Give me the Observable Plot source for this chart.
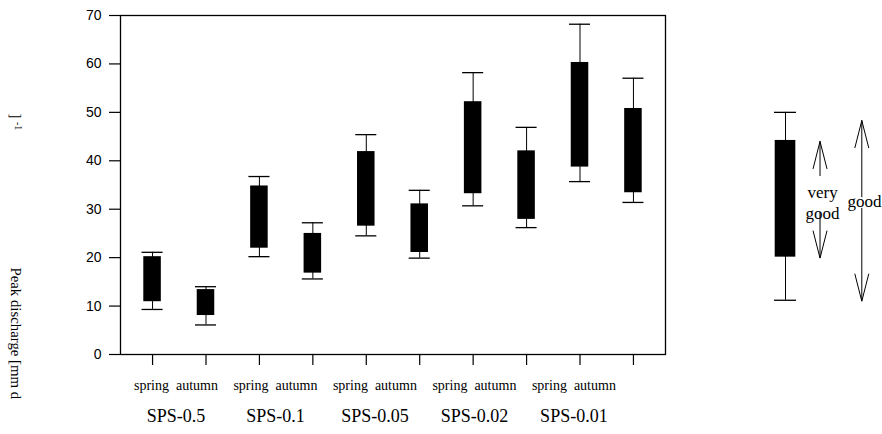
<!DOCTYPE html>
<html><head><meta charset="utf-8">
<script src="https://cdn.jsdelivr.net/npm/d3@7"></script>
<script src="https://cdn.jsdelivr.net/npm/@observablehq/plot@0.6"></script>
<style>html,body{margin:0;padding:0;background:#fff}</style>
</head><body><div id="chart"></div>
<script>
// ---- data ----
const schemes = ["SPS-0.5", "SPS-0.1", "SPS-0.05", "SPS-0.02", "SPS-0.01"];
const seasons = ["spring", "autumn"];
const whiskerLow  = [9.3, 6.1, 20.2, 15.6, 24.5, 19.9, 30.7, 26.2, 35.7, 31.4];
const boxLow      = [10.9, 8.05, 21.95, 16.8, 26.5, 21.06, 33.2, 27.9, 38.7, 33.4];
const boxHigh     = [20.2, 13.4, 34.8, 25.0, 41.9, 31.1, 52.2, 42.05, 60.3, 50.8];
const whiskerHigh = [21.1, 14.0, 36.75, 27.2, 45.4, 33.9, 58.2, 46.9, 68.2, 57.05];
const yTicks = [0, 10, 20, 30, 40, 50, 60, 70];
const xTicks = [1, 2, 3, 4, 5, 6, 7, 8, 9, 10];
// legend box: whisker low, box low, box high, whisker high
const legendStats = [11.2, 20.1, 44.2, 50.0];
// arrows: [low tip, high tip] and the gap left for the text [low, high]
const veryGoodRange = [19.9, 44.0];
const veryGoodGap = [29.3, 36.75];
const goodRange = [11.0, 48.3];
const goodGap = [30.15, 32.4];

// ---- tables built from the arrays ----
const boxes = xTicks.map((p, i) => ({
  pos: p,
  scheme: schemes[Math.floor(i / 2)],
  season: seasons[i % 2],
  wl: whiskerLow[i], bl: boxLow[i], bh: boxHigh[i], wh: whiskerHigh[i]
}));
const groups = schemes.map((s, g) => ({scheme: s, g}));

// layout helpers (data units of the x scale)
const boxHalf = 0.164, capHalf = 0.197;
const labelX = d => 1.40 + 1.862 * d.g;
const legendX = 12.846, veryGoodX = 13.492, goodX = 14.274;
const serif = "Liberation Serif, Times New Roman, serif";
const sans = "Liberation Sans, Arial, sans-serif";

const headUp = {draw(c) { c.moveTo(-7, 27.5); c.lineTo(0, 0); c.lineTo(7, 27.5); }};
const headDown = {draw(c) { c.moveTo(-7, -27.5); c.lineTo(0, 0); c.lineTo(7, -27.5); }};

const legend = [{wl: legendStats[0], bl: legendStats[1], bh: legendStats[2], wh: legendStats[3], pos: legendX}];

const chart = Plot.plot({
  width: 882,
  height: 434,
  marginLeft: 120,
  marginRight: 217,
  marginTop: 15,
  marginBottom: 80,
  style: {fontFamily: sans, fontSize: "14px", color: "black", background: "white", overflow: "visible"},
  x: {type: "linear", domain: [0.4, 10.6], axis: null},
  y: {domain: [0, 70], axis: null},
  marks: [
    Plot.frame({stroke: "black", strokeWidth: 1.3}),
    Plot.axisY(yTicks, {tickSize: 11, tickPadding: 8, fontSize: 14, fontFamily: sans, strokeWidth: 1.2, label: null}),
    Plot.axisX(xTicks, {tickSize: 11, tickFormat: () => "", strokeWidth: 1.2, label: null}),
    // whiskers
    Plot.ruleX(boxes, {x: "pos", y1: "wl", y2: "wh", stroke: "black", strokeWidth: 1}),
    Plot.ruleY(boxes, {y: "wl", x1: d => d.pos - capHalf, x2: d => d.pos + capHalf, stroke: "black", strokeWidth: 1.3}),
    Plot.ruleY(boxes, {y: "wh", x1: d => d.pos - capHalf, x2: d => d.pos + capHalf, stroke: "black", strokeWidth: 1.3}),
    // boxes
    Plot.rect(boxes, {x1: d => d.pos - boxHalf, x2: d => d.pos + boxHalf, y1: "bl", y2: "bh", fill: "black"}),
    // category labels
    Plot.text(groups, {x: labelX, frameAnchor: "bottom", dy: 35, dx: -22.5, text: () => seasons[0], fontFamily: serif, fontSize: 14, lineAnchor: "bottom"}),
    Plot.text(groups, {x: labelX, frameAnchor: "bottom", dy: 35, dx: 23, text: () => seasons[1], fontFamily: serif, fontSize: 14, lineAnchor: "bottom"}),
    Plot.text(groups, {x: labelX, frameAnchor: "bottom", dy: 67, dx: 2, text: "scheme", fontFamily: serif, fontSize: 18, lineAnchor: "bottom"}),
    // y axis title (as laid out in the reference)
    Plot.text(["Peak discharge [mm d"], {frameAnchor: "left", dx: -109.5, dy: 82.5, rotate: 90, textAnchor: "start", lineAnchor: "bottom", fontFamily: serif, fontSize: 14.8}),
    Plot.text(["]"], {frameAnchor: "left", dx: -109.5, dy: -71.5, rotate: 90, textAnchor: "start", lineAnchor: "bottom", fontFamily: serif, fontSize: 14.8}),
    Plot.text(["-1"], {frameAnchor: "left", dx: -106, dy: -63, rotate: 90, textAnchor: "start", lineAnchor: "bottom", fontFamily: serif, fontSize: 10}),
    // legend box
    Plot.ruleX(legend, {x: "pos", y1: "wl", y2: "wh", stroke: "black", strokeWidth: 1}),
    Plot.ruleY(legend, {y: "wl", x1: d => d.pos - 0.206, x2: d => d.pos + 0.206, stroke: "black", strokeWidth: 1.3}),
    Plot.ruleY(legend, {y: "wh", x1: d => d.pos - 0.206, x2: d => d.pos + 0.206, stroke: "black", strokeWidth: 1.3}),
    Plot.rect(legend, {x1: d => d.pos - 0.193, x2: d => d.pos + 0.193, y1: "bl", y2: "bh", fill: "black"}),
    // legend arrows
    Plot.ruleX([0], {x: veryGoodX, y1: veryGoodGap[1], y2: veryGoodRange[1], stroke: "black", strokeWidth: 1}),
    Plot.ruleX([0], {x: veryGoodX, y1: veryGoodRange[0], y2: veryGoodGap[0], stroke: "black", strokeWidth: 1}),
    Plot.ruleX([0], {x: goodX, y1: goodGap[1], y2: goodRange[1], stroke: "black", strokeWidth: 1}),
    Plot.ruleX([0], {x: goodX, y1: goodRange[0], y2: goodGap[0], stroke: "black", strokeWidth: 1}),
    Plot.dot([veryGoodRange[1], goodRange[1]], {x: [veryGoodX, goodX], y: d => d, symbol: headUp, fill: "none", stroke: "black", strokeWidth: 1}),
    Plot.dot([veryGoodRange[0], goodRange[0]], {x: [veryGoodX, goodX], y: d => d, symbol: headDown, fill: "none", stroke: "black", strokeWidth: 1}),
    Plot.text(["very"], {x: 13.539, y: 32.36, lineAnchor: "bottom", fontFamily: serif, fontSize: 17}),
    Plot.text(["good"], {x: 13.539, y: 28.02, lineAnchor: "bottom", fontFamily: serif, fontSize: 17}),
    Plot.text(["good"], {x: 14.325, y: 30.42, lineAnchor: "bottom", fontFamily: serif, fontSize: 17})
  ]
});
document.getElementById("chart").appendChild(chart);
</script>
</body></html>
